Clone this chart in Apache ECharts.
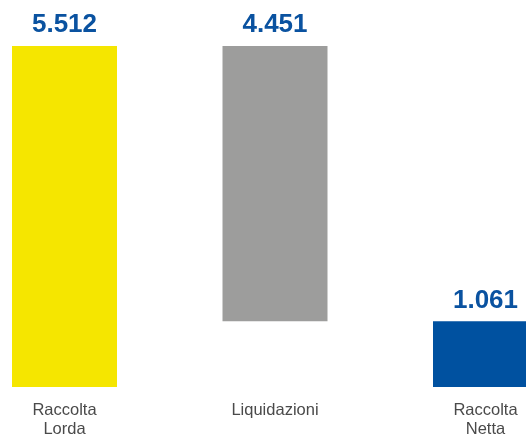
<!DOCTYPE html>
<html>
<head>
<meta charset="utf-8">
<script src="https://cdn.jsdelivr.net/npm/echarts@6/dist/echarts.min.js"></script>
<style>
  html, body { margin: 0; padding: 0; background: #fff; }
  #chart { width: 526px; height: 439px; }
</style>
</head>
<body>
<div id="chart"></div>
<script>
// categorie e valori (cascata)
var categorie = ['Raccolta\nLorda', 'Liquidazioni', 'Raccolta\nNetta'];
var valori = [5.512, 4.451, 1.061];
var base = [0, 1.061, 0]; // parte invisibile sotto la barra Liquidazioni
var colori = ['#f5e600', '#9d9d9c', '#0051a0'];

var chart = echarts.init(document.getElementById('chart'));

var option = {
  animation: false,
  grid: { left: 64.5, right: 40.5, top: 46, bottom: 50, containLabel: false },
  xAxis: {
    type: 'category',
    boundaryGap: false,
    data: categorie,
    axisLine: { show: false },
    axisTick: { show: false },
    axisLabel: {
      color: '#4a4a4a',
      fontFamily: 'Liberation Sans',
      fontSize: 16.5,
      lineHeight: 19,
      margin: 14
    }
  },
  yAxis: {
    type: 'value',
    min: 0,
    max: 5.512,
    show: false,
    splitLine: { show: false }
  },
  series: [
    {
      type: 'bar',
      stack: 'w',
      barWidth: 105,
      itemStyle: { color: 'transparent' },
      data: base,
      silent: true
    },
    {
      type: 'bar',
      stack: 'w',
      barWidth: 105,
      data: valori.map(function (v, i) {
        return { value: v, itemStyle: { color: colori[i] } };
      }),
      label: {
        show: true,
        position: 'top',
        distance: 8,
        color: '#0a52a0',
        fontFamily: 'Liberation Sans',
        fontWeight: 'bold',
        fontSize: 26,
        formatter: function (p) { return p.value.toFixed(3); }
      }
    }
  ]
};

chart.setOption(option);
</script>
</body>
</html>
